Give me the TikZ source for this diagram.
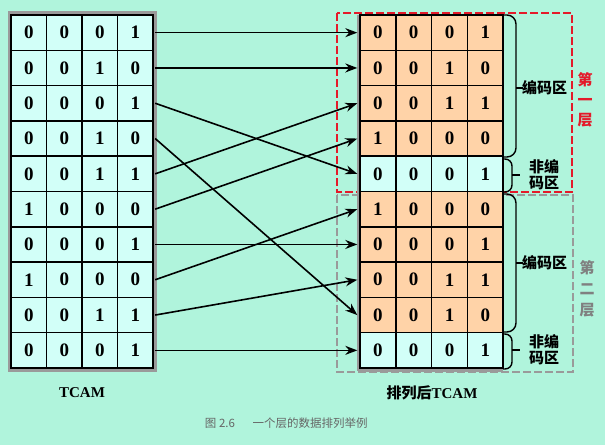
\documentclass[tikz,border=0pt]{standalone}
\usepackage{fontspec}
\setmainfont{Liberation Serif}
\newfontfamily\cjk{Noto Sans CJK SC}
\usetikzlibrary{arrows.meta}
\definecolor{bg}{HTML}{B0F4DC}
\definecolor{cyancell}{HTML}{D2FFF8}
\definecolor{orangecell}{HTML}{FFD3A8}
\definecolor{layerred}{HTML}{E41A2A}
\definecolor{framegray}{HTML}{9A9A9A}
\begin{document}
\begin{tikzpicture}[x=1pt,y=-1pt,
  cell/.style={draw=black,line width=1.5pt,minimum width=35.5pt,minimum height=35.3pt,inner sep=0pt,
    font=\bfseries\fontsize{19}{19}\selectfont},
  rcell/.style={cell,minimum width=35.8pt},
  rowbox/.style={minimum width=142pt,minimum height=35.3pt,inner sep=0pt},
  rrowbox/.style={minimum width=143.2pt,minimum height=35.3pt,inner sep=0pt},
  arr/.style={line width=1.6pt,-{Stealth[length=12pt,width=9pt]}},
  brk/.style={draw=black,line width=1.4pt,rounded corners=9pt},
  tick/.style={draw=black,line width=1.4pt},
  zone/.style={font=\cjk\bfseries\fontsize{15}{16}\selectfont,inner sep=0pt,align=center},
  layerlab/.style={font=\cjk\bfseries\fontsize{15}{20}\selectfont,inner sep=0pt,align=center},
  title/.style={font=\bfseries\fontsize{15}{15}\selectfont,inner sep=0pt}
]
\fill[bg] (0,0) rectangle (605,445);
\useasboundingbox (0,0) rectangle (605,445);

% dashed layer frames
\draw[layerred,line width=1.5pt,dash pattern=on 8pt off 3pt] (337,13) rectangle (572,192);
\draw[framegray,line width=1.5pt,dash pattern=on 8pt off 3pt] (337,195) rectangle (573,372);

% outer grey borders of the tables
\draw[framegray,line width=3pt] (9,12.5) rectangle (155.5,370.5);
\draw[framegray,line width=3pt] (358,370.5) -- (503,370.5);
\draw[framegray,line width=3pt] (358,15) -- (358,370.5);

% left TCAM
\foreach \r/\a/\b/\c/\d in {1/0/0/0/1,2/0/0/1/0,3/0/0/0/1,4/0/0/1/0,5/0/0/1/1,6/1/0/0/0,7/0/0/0/1,8/1/0/0/0,9/0/0/1/1,10/0/0/0/1}{
  \pgfmathsetmacro\yc{15+35.3*(\r-0.5)}
  \node[rowbox] (L\r) at (82,\yc) {};
  \node[cell,fill=cyancell] (L\r-1) at (28.75,\yc) {\a};
  \node[cell,fill=cyancell] (L\r-2) at (64.25,\yc) {\b};
  \node[cell,fill=cyancell] (L\r-3) at (99.75,\yc) {\c};
  \node[cell,fill=cyancell] (L\r-4) at (135.25,\yc) {\d};
}

% right TCAM
\foreach \r/\a/\b/\c/\d/\f in {1/0/0/0/1/orangecell,2/0/0/1/0/orangecell,3/0/0/1/1/orangecell,4/1/0/0/0/orangecell,5/0/0/0/1/cyancell,6/1/0/0/0/orangecell,7/0/0/0/1/orangecell,8/0/0/1/1/orangecell,9/0/0/1/0/orangecell,10/0/0/0/1/cyancell}{
  \pgfmathsetmacro\yc{15+35.3*(\r-0.5)}
  \node[rrowbox] (R\r) at (431.6,\yc) {};
  \node[rcell,fill=\f] (R\r-1) at (377.9,\yc) {\a};
  \node[rcell,fill=\f] (R\r-2) at (413.7,\yc) {\b};
  \node[rcell,fill=\f] (R\r-3) at (449.5,\yc) {\c};
  \node[rcell,fill=\f] (R\r-4) at (485.3,\yc) {\d};
}

% connectors
\foreach \s/\t in {1/1,2/2,3/5,4/9,5/3,6/4,7/7,8/6,9/8,10/10}{
  \draw[arr] ([xshift=2pt]L\s.east) -- ([xshift=-2.5pt]R\t.west);
}

% brackets
\draw[brk] (503,15) -- (516,15) -- (516,157) -- (503,157);
\draw[tick] (516,88) -- (523,88);
\draw[brk,rounded corners=7pt] (503,159) -- (512,159) -- (512,192) -- (503,192);
\draw[tick] (512,175) -- (520,175);
\draw[brk] (503,194) -- (516,194) -- (516,332) -- (503,332);
\draw[tick] (516,263) -- (523,263);
\draw[brk,rounded corners=7pt] (503,334) -- (512,334) -- (512,369) -- (503,369);
\draw[tick] (512,350) -- (520,350);

% zone labels
\node[zone,anchor=west] (z1) at (522,88) {编码区};
\node[zone] (z2) at (544,175) {非编\\码区};
\node[zone,anchor=west] (z3) at (522,263) {编码区};
\node[zone] (z4) at (544,350) {非编\\码区};

% layer labels
\node[layerlab,text=layerred] (lay1) at (585,100) {第\\一\\层};
\node[layerlab,text=gray,font=\cjk\bfseries\fontsize{15}{21}\selectfont] (lay2) at (587,289) {第\\二\\层};

% titles
\node[title] (t1) at (82,393) {TCAM};
\node[title] (t2) at (432,393) {{\cjk 排列后}TCAM};

% caption
\node[inner sep=0pt,text=gray!80!black,font=\cjk\fontsize{11.5}{11.5}\selectfont] (cap1) at (220,423) {图 2.6};
\node[inner sep=0pt,text=gray!80!black,font=\cjk\fontsize{11.5}{11.5}\selectfont] (cap2) at (310,423) {一个层的数据排列举例};
\end{tikzpicture}
\end{document}
